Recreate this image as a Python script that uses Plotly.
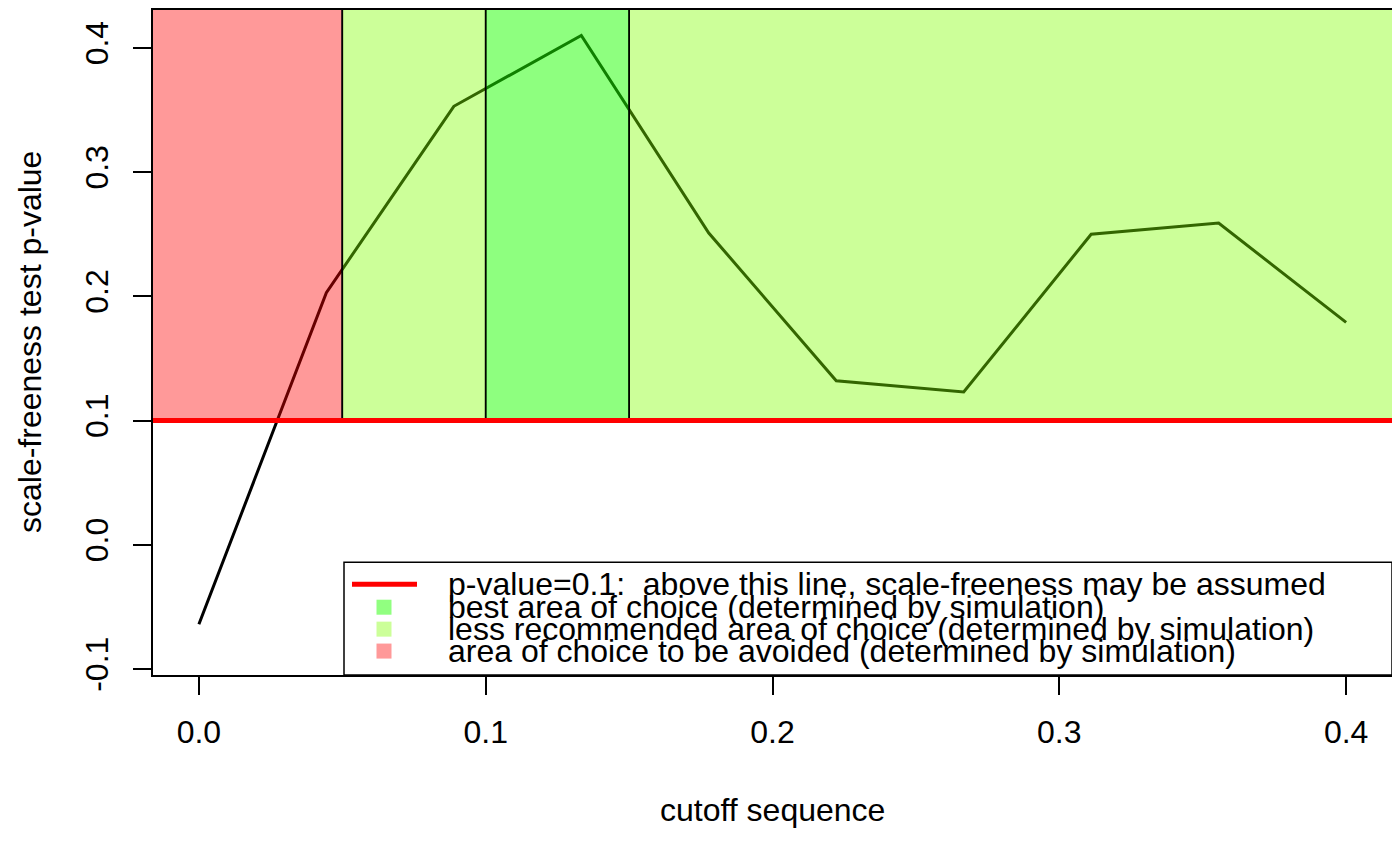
import plotly.graph_objects as go

# ---- data ----
cutoff = [0.0, 0.4/9, 0.8/9, 1.2/9, 1.6/9, 2.0/9, 2.4/9, 2.8/9, 3.2/9, 0.4]
pvalue = [-0.064, 0.203, 0.353, 0.410, 0.251, 0.132, 0.123, 0.250, 0.259, 0.179]
p_threshold = 0.1
avoid_end = 0.05
best_start = 0.1
best_end = 0.15
x_ticks = [0.0, 0.1, 0.2, 0.3, 0.4]
y_ticks = [-0.1, 0.0, 0.1, 0.2, 0.3, 0.4]
legend_labels = [
    "p-value=0.1:  above this line, scale-freeness may be assumed",
    "best area of choice (determined by simulation)",
    "less recommended area of choice (determined by simulation)",
    "area of choice to be avoided (determined by simulation)",
]

FONT = "Liberation Sans, Arial, sans-serif"
FS = 32

# page offset (body margin) compensation
OFF = 8
W, H = 1400 - OFF, 866 - OFF
PL, PR, PT, PB = 153, 1392, 7, 675   # plot box in page pixels
L = PL - OFF
T = max(PT - OFF, 0)
R = W - (PR - OFF)
B = H - (PB - OFF)
pw, ph = W - L - R, H - T - B

def px(x):
    return (x - OFF - L) / pw

def py(y):
    return (H - B - (y - OFF)) / ph

fig = go.Figure()
fig.add_trace(go.Scatter(x=cutoff, y=pvalue, mode="lines",
                         line=dict(color="black", width=3),
                         showlegend=False, hoverinfo="skip"))

BIG = 10
shapes = []
shapes.append(dict(type="rect", xref="x", yref="y", x0=-BIG, x1=avoid_end, y0=p_threshold, y1=BIG,
                   fillcolor="rgba(255,0,0,0.4)", line=dict(color="black", width=1.6), layer="above"))
shapes.append(dict(type="rect", xref="x", yref="y", x0=avoid_end, x1=best_start, y0=p_threshold, y1=BIG,
                   fillcolor="rgba(128,255,0,0.4)", line=dict(color="black", width=1.6), layer="above"))
shapes.append(dict(type="rect", xref="x", yref="y", x0=best_end, x1=BIG, y0=p_threshold, y1=BIG,
                   fillcolor="rgba(128,255,0,0.4)", line=dict(color="black", width=1.6), layer="above"))
shapes.append(dict(type="rect", xref="x", yref="y", x0=best_start, x1=best_end, y0=p_threshold, y1=BIG,
                   fillcolor="rgba(30,255,0,0.5)", line=dict(color="black", width=1.6), layer="above"))
shapes.append(dict(type="line", xref="paper", yref="y", x0=0, x1=1, y0=p_threshold, y1=p_threshold,
                   line=dict(color="#FF0000", width=5), layer="above"))

# legend
shapes.append(dict(type="rect", xref="paper", yref="paper", x0=px(344), x1=1, y0=0, y1=py(562),
                   fillcolor="white", line=dict(color="black", width=1.5), layer="above"))
shapes.append(dict(type="line", xref="paper", yref="paper", x0=px(352), x1=px(417), y0=py(584), y1=py(584),
                   line=dict(color="#FF0000", width=5), layer="above"))
sq_colors = ["rgb(145,255,128)", "rgb(204,255,153)", "rgb(255,153,153)"]
row_y = [584, 607, 629, 651]
for c, yy in zip(sq_colors, row_y[1:]):
    shapes.append(dict(type="rect", xref="paper", yref="paper", xsizemode="pixel", ysizemode="pixel",
                       xanchor=px(384), yanchor=py(yy), x0=-7.5, x1=7.5, y0=-7.5, y1=7.5,
                       fillcolor=c, line=dict(width=0), layer="above"))

annotations = []
for lab, yy in zip(legend_labels, row_y):
    annotations.append(dict(text=lab, xref="paper", yref="paper", x=px(446), y=py(yy),
                            xanchor="left", yanchor="middle", showarrow=False,
                            font=dict(family=FONT, size=FS, color="black")))
annotations.append(dict(text="cutoff sequence", xref="paper", yref="paper", x=0.5, y=py(810),
                        xanchor="center", yanchor="middle", showarrow=False,
                        font=dict(family=FONT, size=FS, color="black")))
annotations.append(dict(text="scale-freeness test p-value", xref="paper", yref="paper", x=px(30), y=py(341),
                        xanchor="center", yanchor="middle", textangle=-90, showarrow=False,
                        font=dict(family=FONT, size=FS, color="black")))

fig.update_layout(
    width=W, height=H, margin=dict(l=L, r=R, t=T, b=B, pad=0),
    paper_bgcolor="white", plot_bgcolor="white",
    shapes=shapes, annotations=annotations, showlegend=False,
    font=dict(family=FONT, size=FS, color="black"),
)
fig.update_xaxes(range=[-0.016, 0.416], tickvals=x_ticks, ticktext=[f"{v:.1f}" for v in x_ticks],
                 ticks="outside", ticklen=18, tickwidth=1.5, tickcolor="black",
                 showline=True, linecolor="black", linewidth=1.6, mirror=True,
                 showgrid=False, zeroline=False, ticklabelstandoff=10,
                 tickfont=dict(family=FONT, size=FS, color="black"))
fig.update_yaxes(range=[-0.1048, 0.4305], tickvals=y_ticks, ticktext=[f"{v:.1f}" for v in y_ticks],
                 ticks="outside", ticklen=18, tickwidth=1.5, tickcolor="black",
                 showline=True, linecolor="black", linewidth=1.6, mirror=True,
                 showgrid=False, zeroline=False, tickangle=-90, ticklabelstandoff=12,
                 tickfont=dict(family=FONT, size=FS, color="black"))

fig.write_html("out.html")
